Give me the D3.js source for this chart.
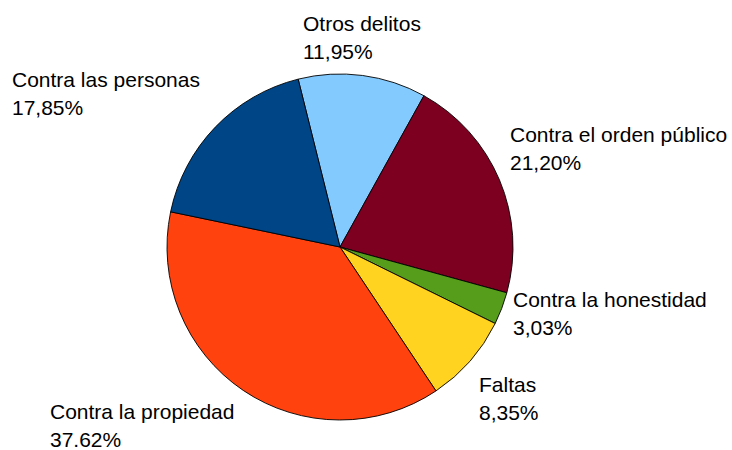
<!DOCTYPE html>
<html>
<head>
<meta charset="utf-8">
<script src="https://cdn.jsdelivr.net/npm/d3@7"></script>
<style>
  html, body { margin: 0; padding: 0; background: #fff; }
  svg { display: block; }
  text { font-family: "Liberation Sans", Arial, sans-serif; font-size: 21px; fill: #000; }
</style>
</head>
<body>
<svg id="chart" width="732" height="450"></svg>
<script>
// Crime categories and their share of the total (%)
const categories = ["Otros delitos", "Contra el orden público", "Contra la honestidad", "Faltas", "Contra la propiedad", "Contra las personas"];
const values = [11.95, 21.20, 3.03, 8.35, 37.62, 17.85];
const valueLabels = ["11,95%", "21,20%", "3,03%", "8,35%", "37.62%", "17,85%"];
const colors = ["#83caff", "#7e0021", "#579d1c", "#ffd320", "#ff420e", "#004586"];

// Layout
const width = 732, height = 450;
const cx = 340, cy = 247, radius = 173;
const startDeg = -14;
// label anchor (left x, first baseline y) for each category
const labelAnchors = [[303, 31], [510, 142], [513, 307], [479, 392], [50, 419], [12, 87]];
const lineGap = 27.5;

const svg = d3.select("#chart");

const pie = d3.pie()
  .value(d => d)
  .sort(null)
  .startAngle(startDeg * Math.PI / 180)
  .endAngle((startDeg + 360) * Math.PI / 180);

const arc = d3.arc().innerRadius(0).outerRadius(radius);

const color = d3.scaleOrdinal().domain(categories).range(colors);

const g = svg.append("g").attr("transform", `translate(${cx},${cy})`);

g.selectAll("path")
  .data(pie(values))
  .join("path")
  .attr("d", arc)
  .attr("fill", (d, i) => color(categories[i]))
  .attr("stroke", "#000")
  .attr("stroke-width", 0.9)
  .attr("stroke-linejoin", "round");

const labels = svg.append("g")
  .selectAll("text")
  .data(categories)
  .join("text")
  .attr("x", (d, i) => labelAnchors[i][0])
  .attr("y", (d, i) => labelAnchors[i][1]);

labels.append("tspan").text(d => d);
labels.append("tspan")
  .attr("x", (d, i) => labelAnchors[i][0])
  .attr("dy", lineGap)
  .text((d, i) => valueLabels[i]);
</script>
</body>
</html>
